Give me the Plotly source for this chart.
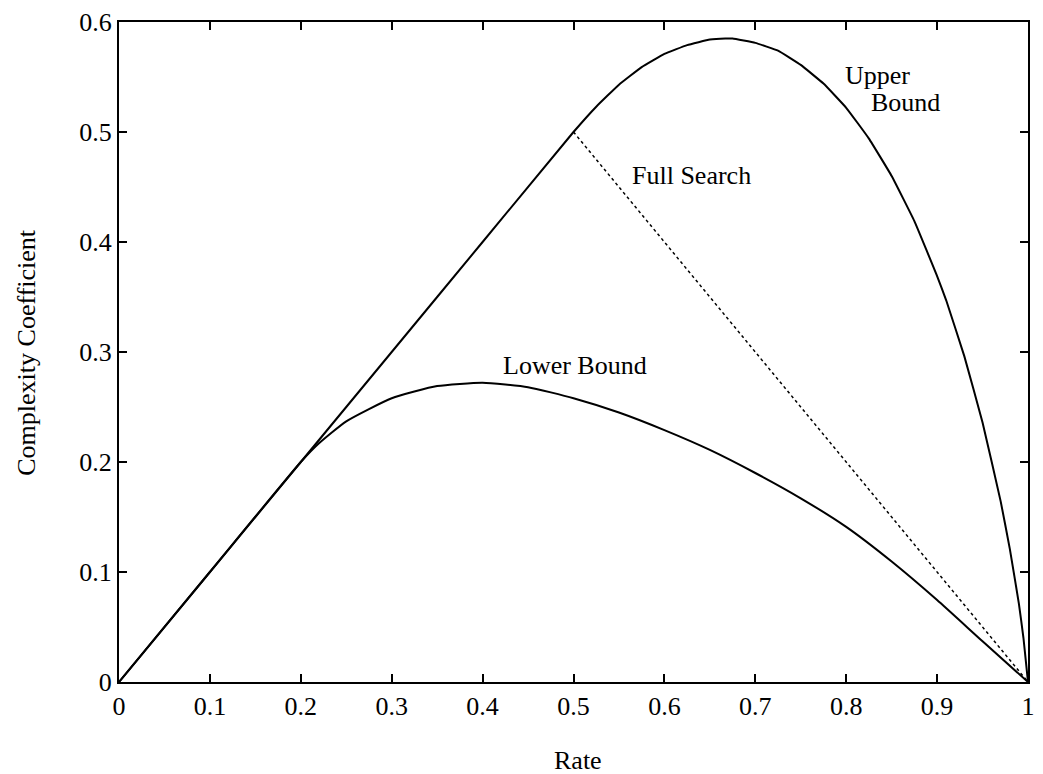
import plotly.graph_objects as go

# Rate values and complexity coefficients for each bound
upper_rate = [0.0, 0.1, 0.2, 0.3, 0.4, 0.5, 0.525, 0.55, 0.575, 0.6, 0.625, 0.65, 0.667,
              0.675, 0.7, 0.725, 0.75, 0.775, 0.8, 0.825, 0.85, 0.875, 0.9, 0.91, 0.93,
              0.95, 0.97, 0.98, 0.99, 0.995, 1.0]
upper_coef = [0.0, 0.1, 0.2, 0.3, 0.4, 0.5, 0.523, 0.543, 0.559, 0.571, 0.579, 0.584, 0.585,
              0.585, 0.581, 0.574, 0.561, 0.544, 0.522, 0.494, 0.46, 0.419, 0.369, 0.347,
              0.296, 0.236, 0.164, 0.121, 0.071, 0.04, 0.0]

lower_rate = [0.0, 0.1, 0.2, 0.22, 0.25, 0.3, 0.35, 0.4, 0.45, 0.5, 0.55, 0.6, 0.65,
              0.7, 0.75, 0.8, 0.85, 0.9, 0.95, 1.0]
lower_coef = [0.0, 0.1, 0.2, 0.217, 0.237, 0.258, 0.269, 0.272, 0.268, 0.258, 0.245,
              0.229, 0.211, 0.19, 0.167, 0.141, 0.1095, 0.0745, 0.037, 0.0]

full_rate = [0.5, 1.0]
full_coef = [0.5, 0.0]

x_ticks = [0, 0.1, 0.2, 0.3, 0.4, 0.5, 0.6, 0.7, 0.8, 0.9, 1]
x_labels = ["0", "0.1", "0.2", "0.3", "0.4", "0.5", "0.6", "0.7", "0.8", "0.9", "1"]
y_ticks = [0, 0.1, 0.2, 0.3, 0.4, 0.5, 0.6]
y_labels = ["0", "0.1", "0.2", "0.3", "0.4", "0.5", "0.6"]

FONT = "Liberation Serif"
W, H = 1043, 774
L, R, T, B = 119, 8, 22, 92

fig = go.Figure()
fig.add_trace(go.Scatter(x=upper_rate, y=upper_coef, mode="lines",
                         line=dict(color="black", width=2, shape="spline", smoothing=0.3)))
fig.add_trace(go.Scatter(x=lower_rate, y=lower_coef, mode="lines",
                         line=dict(color="black", width=2, shape="spline", smoothing=0.5)))
fig.add_trace(go.Scatter(x=full_rate, y=full_coef, mode="lines",
                         line=dict(color="black", width=1.5, dash="dot")))

axis_common = dict(showgrid=False, zeroline=False, showline=True, linecolor="black",
                   linewidth=2, mirror="ticks", ticks="inside", ticklen=8, tickwidth=1.5,
                   tickcolor="black", tickfont=dict(family=FONT, size=26, color="black"))
fig.update_xaxes(range=[0, 1], tickvals=x_ticks, ticktext=x_labels, **axis_common)
fig.update_yaxes(range=[0, 0.6], tickvals=y_ticks, ticktext=y_labels, **axis_common)


def px(xp):
    return (xp - L) / (W - L - R)


def py(yp):
    return (H - B - yp) / (H - T - B)


labels = [
    ("Upper", 883, 75),
    ("Bound", 912, 102),
    ("Full Search", 696, 175),
    ("Lower Bound", 579, 365),
    ("Rate", 582, 760),
]
for text, xp, yp in labels:
    fig.add_annotation(x=px(xp), y=py(yp), xref="paper", yref="paper", text=text,
                       xanchor="center", yanchor="middle", showarrow=False,
                       font=dict(family=FONT, size=26, color="black"))

fig.add_annotation(x=px(25), y=py(352), xref="paper", yref="paper",
                   text="Complexity Coefficient", textangle=-90,
                   xanchor="center", yanchor="middle", showarrow=False,
                   font=dict(family=FONT, size=26, color="black"))

fig.update_layout(width=W, height=H, margin=dict(l=L, r=R, t=T, b=B),
                  paper_bgcolor="white", plot_bgcolor="white", showlegend=False)

fig.write_html("out.html")
